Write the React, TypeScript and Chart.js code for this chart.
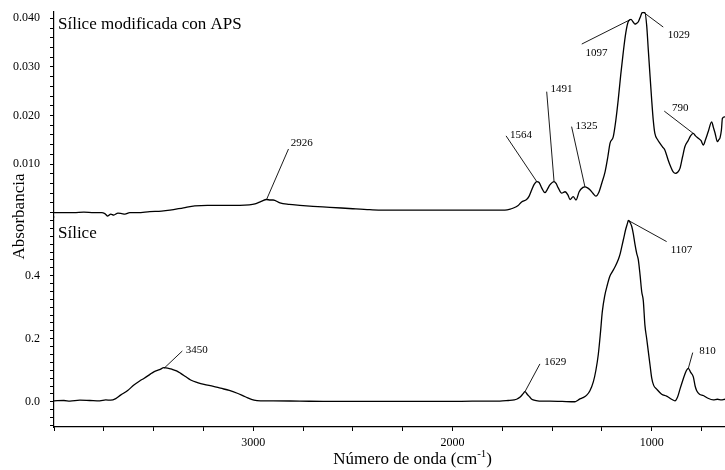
import React, { useEffect, useRef } from 'react';
import { Chart, registerables } from 'chart.js';

Chart.register(...registerables);

// ---------- data ----------
// Upper spectrum: Sílice modificada con APS
const upperWn = [4000, 3900, 3850, 3800, 3760, 3745, 3730, 3715, 3700, 3679, 3660, 3644, 3620, 3580, 3519, 3460, 3418, 3350, 3293, 3230, 3167, 3100, 3067, 3020, 2991, 2960, 2933, 2915, 2900, 2866, 2820, 2766, 2700, 2615, 2500, 2415, 2350, 2264, 2150, 2013, 1900, 1800, 1737, 1710, 1697, 1672, 1653, 1628, 1615, 1602, 1590, 1577, 1565, 1552, 1536, 1525, 1511, 1490, 1480, 1469, 1452, 1435, 1420, 1410, 1394, 1380, 1364, 1345, 1335, 1322, 1310, 1295, 1280, 1265, 1251, 1234, 1220, 1209, 1193, 1180, 1168, 1155, 1143, 1130, 1118, 1104, 1094, 1084, 1075, 1067, 1055, 1047, 1034, 1025, 1017, 1008, 1000, 992, 984, 970, 959, 945, 934, 917, 905, 892, 880, 870, 858, 845, 833, 816, 805, 791, 780, 766, 752, 741, 730, 716, 699, 690, 682, 670, 663, 657, 650, 645, 632, 620];
const upperAbs = [0.0000, 0.0000, 0.0001, 0.0000, 0.0000, -0.0002, -0.0007, -0.0003, -0.0005, -0.0001, -0.0002, -0.0003, 0.0000, 0.0000, 0.0002, 0.0003, 0.0005, 0.0010, 0.0014, 0.0015, 0.0015, 0.0015, 0.0015, 0.0016, 0.0018, 0.0023, 0.0027, 0.0026, 0.0026, 0.0020, 0.0017, 0.0015, 0.0013, 0.0011, 0.0008, 0.0006, 0.0005, 0.0005, 0.0005, 0.0005, 0.0005, 0.0005, 0.0005, 0.0007, 0.0009, 0.0014, 0.0022, 0.0027, 0.0034, 0.0047, 0.0058, 0.0064, 0.0062, 0.0051, 0.0041, 0.0047, 0.0057, 0.0064, 0.0060, 0.0051, 0.0040, 0.0043, 0.0036, 0.0027, 0.0033, 0.0026, 0.0043, 0.0052, 0.0053, 0.0051, 0.0047, 0.0040, 0.0034, 0.0042, 0.0060, 0.0084, 0.0115, 0.0143, 0.0156, 0.0190, 0.0232, 0.0285, 0.0329, 0.0370, 0.0393, 0.0398, 0.0393, 0.0388, 0.0390, 0.0393, 0.0405, 0.0412, 0.0412, 0.0385, 0.0335, 0.0280, 0.0232, 0.0190, 0.0163, 0.0150, 0.0143, 0.0135, 0.0129, 0.0108, 0.0095, 0.0084, 0.0081, 0.0083, 0.0091, 0.0115, 0.0136, 0.0149, 0.0158, 0.0163, 0.0158, 0.0153, 0.0148, 0.0139, 0.0150, 0.0167, 0.0187, 0.0175, 0.0164, 0.0146, 0.0150, 0.0154, 0.0170, 0.0194, 0.0197, 0.0200];

// Lower spectrum: Sílice
const lowerWn = [4000, 3950, 3920, 3870, 3820, 3770, 3740, 3716, 3690, 3666, 3630, 3599, 3570, 3549, 3520, 3499, 3470, 3448, 3430, 3407, 3385, 3364, 3340, 3314, 3280, 3247, 3200, 3164, 3120, 3080, 3040, 2996, 2963, 2900, 2766, 2600, 2515, 2400, 2264, 2100, 2013, 1900, 1800, 1762, 1720, 1690, 1678, 1660, 1645, 1636, 1625, 1612, 1602, 1580, 1550, 1511, 1450, 1385, 1370, 1360, 1345, 1326, 1310, 1293, 1280, 1268, 1257, 1248, 1236, 1222, 1210, 1198, 1184, 1167, 1158, 1150, 1140, 1130, 1122, 1117, 1108, 1100, 1092, 1084, 1075, 1067, 1058, 1050, 1042, 1034, 1025, 1017, 1008, 1000, 990, 975, 950, 925, 900, 883, 870, 858, 845, 833, 825, 816, 805, 791, 782, 774, 760, 741, 720, 691, 670, 650, 632, 620];
const lowerAbs = [0.003, 0.004, 0.002, 0.005, 0.004, 0.003, 0.006, 0.005, 0.010, 0.021, 0.036, 0.053, 0.066, 0.074, 0.086, 0.095, 0.102, 0.108, 0.107, 0.103, 0.098, 0.090, 0.080, 0.069, 0.061, 0.055, 0.049, 0.043, 0.036, 0.027, 0.016, 0.005, 0.003, 0.003, 0.002, 0.001, 0.001, 0.001, 0.001, 0.001, 0.001, 0.002, 0.002, 0.002, 0.004, 0.006, 0.008, 0.015, 0.026, 0.032, 0.024, 0.015, 0.008, 0.004, 0.002, 0.002, 0.001, 0.000, 0.005, 0.009, 0.013, 0.021, 0.035, 0.063, 0.100, 0.150, 0.220, 0.285, 0.335, 0.372, 0.398, 0.412, 0.428, 0.452, 0.470, 0.492, 0.520, 0.548, 0.565, 0.575, 0.568, 0.556, 0.532, 0.500, 0.470, 0.450, 0.400, 0.349, 0.320, 0.243, 0.200, 0.160, 0.115, 0.076, 0.052, 0.040, 0.024, 0.018, 0.008, 0.003, 0.015, 0.040, 0.066, 0.088, 0.100, 0.106, 0.094, 0.079, 0.050, 0.035, 0.024, 0.020, 0.012, 0.006, 0.008, 0.006, 0.008, 0.007];

// Tick labels
const xTickLabels = [3000, 2000, 1000];
const upperTickLabels = [0.01, 0.02, 0.03, 0.04];
const lowerTickLabels = [0.0, 0.2, 0.4];

// Peak annotations (data coordinates): label, peak point, line end, text centre
const upperPeakLabels = ['2926', '1564', '1491', '1325', '1097', '1029', '790'];
const upperPeakX = [2933, 1577, 1490, 1335, 1104, 1040, 791];
const upperPeakY = [0.0027, 0.0064, 0.0064, 0.0053, 0.0398, 0.0412, 0.0163];
const upperLineX = [2823, 1731, 1527, 1402, 1351, 942, 937];
const upperLineY = [0.0131, 0.0158, 0.0249, 0.0177, 0.0347, 0.0382, 0.0209];
const upperTextX = [2756, 1656, 1453, 1327, 1277, 864, 856];
const upperTextY = [0.0143, 0.0160, 0.0254, 0.0178, 0.0329, 0.0366, 0.0215];

const lowerPeakLabels = ['3450', '1629', '1107', '810'];
const lowerPeakX = [3448, 1636, 1117, 816];
const lowerPeakY = [0.106, 0.032, 0.575, 0.106];
const lowerLineX = [3356, 1561, 925, 794];
const lowerLineY = [0.161, 0.120, 0.508, 0.156];
const lowerTextX = [3283, 1484, 850, 720];
const lowerTextY = [0.164, 0.125, 0.482, 0.162];

const upperTitle = 'Sílice modificada con APS';
const lowerTitle = 'Sílice';
const yTitle = 'Absorbancia';
const xTitleMain = 'Número de onda (cm';
const xTitleSup = '-1';
const xTitleEnd = ')';

const FONT = '"Liberation Serif", "Times New Roman", serif';

function near(v: number, list: number[], tol: number) {
  return list.find((t) => Math.abs(v - t) < tol);
}

const textPlugin = {
  id: 'irText',
  afterDatasetsDraw(chart: any) {
    const ctx = chart.ctx as CanvasRenderingContext2D;
    const xs = chart.scales.x;
    const yU = chart.scales.yU;
    const yL = chart.scales.yL;
    ctx.save();
    ctx.strokeStyle = '#000';
    ctx.fillStyle = '#000';
    ctx.lineWidth = 0.9;
    ctx.font = '11px ' + FONT;
    ctx.textAlign = 'center';
    ctx.textBaseline = 'middle';
    const drawSet = (ys: any, labels: string[], px: number[], py: number[], lx: number[], ly: number[], tx: number[], ty: number[]) => {
      labels.forEach((lab, i) => {
        ctx.beginPath();
        ctx.moveTo(xs.getPixelForValue(px[i]), ys.getPixelForValue(py[i]));
        ctx.lineTo(xs.getPixelForValue(lx[i]), ys.getPixelForValue(ly[i]));
        ctx.stroke();
        ctx.fillText(lab, xs.getPixelForValue(tx[i]), ys.getPixelForValue(ty[i]));
      });
    };
    drawSet(yU, upperPeakLabels, upperPeakX, upperPeakY, upperLineX, upperLineY, upperTextX, upperTextY);
    drawSet(yL, lowerPeakLabels, lowerPeakX, lowerPeakY, lowerLineX, lowerLineY, lowerTextX, lowerTextY);

    // panel titles
    ctx.font = '17px ' + FONT;
    ctx.textAlign = 'left';
    ctx.fillText(upperTitle, chart.chartArea.left + 4, yU.top + 13);
    ctx.fillText(lowerTitle, chart.chartArea.left + 4, yL.top + 17);

    // y title
    ctx.save();
    ctx.translate(20, (chart.chartArea.top + chart.chartArea.bottom) / 2 - 3);
    ctx.rotate(-Math.PI / 2);
    ctx.textAlign = 'center';
    ctx.fillText(yTitle, 0, 0);
    ctx.restore();

    // x title with superscript, centred on the full spectrum range (4000-400)
    const cx = (xs.getPixelForValue(4000) + xs.getPixelForValue(400)) / 2;
    const cy = 460;
    ctx.font = '17px ' + FONT;
    const w1 = ctx.measureText(xTitleMain).width;
    const w3 = ctx.measureText(xTitleEnd).width;
    ctx.font = '11px ' + FONT;
    const w2 = ctx.measureText(xTitleSup).width;
    const total = w1 + w2 + w3;
    let sx = cx - total / 2;
    ctx.textAlign = 'left';
    ctx.font = '17px ' + FONT;
    ctx.fillText(xTitleMain, sx, cy);
    sx += w1;
    ctx.font = '11px ' + FONT;
    ctx.fillText(xTitleSup, sx, cy - 6);
    sx += w2;
    ctx.font = '17px ' + FONT;
    ctx.fillText(xTitleEnd, sx, cy);
    ctx.restore();
  },
};

export default function App() {
  const ref = useRef<HTMLCanvasElement | null>(null);
  useEffect(() => {
    if (!ref.current) return;
    const upperData = upperWn.map((w, i) => ({ x: w, y: upperAbs[i] }));
    const lowerData = lowerWn.map((w, i) => ({ x: w, y: lowerAbs[i] }));
    const gridOpts = { drawOnChartArea: false, drawTicks: true, tickLength: 4, color: '#000' };
    const borderOpts = { display: true, color: '#000', width: 1.2 };
    const fitY = (s: any) => { s.width = 54; s.paddingTop = 0; s.paddingBottom = 0; };
    const chart = new Chart(ref.current, {
      type: 'line',
      data: {
        datasets: [
          { label: 'Sílice', data: lowerData, yAxisID: 'yL', borderColor: '#000', borderWidth: 1.3, pointRadius: 0, cubicInterpolationMode: 'monotone', fill: false },
          { label: 'Sílice modificada con APS', data: upperData, yAxisID: 'yU', borderColor: '#000', borderWidth: 1.3, pointRadius: 0, cubicInterpolationMode: 'monotone', fill: false },
        ],
      },
      options: {
        animation: false,
        responsive: false,
        devicePixelRatio: 1,
        layout: { padding: { top: 12, left: 0, right: 0, bottom: 0 } },
        plugins: { legend: { display: false }, tooltip: { enabled: false }, title: { display: false } },
        scales: {
          x: {
            type: 'linear',
            reverse: true,
            min: 632,
            max: 4000,
            grid: gridOpts,
            border: borderOpts,
            ticks: {
              stepSize: 250,
              autoSkip: false,
              includeBounds: false,
              maxRotation: 0,
              padding: 5,
              color: '#000',
              font: { family: FONT, size: 12 },
              callback: (v: any) => {
                const m = near(Number(v), xTickLabels, 1);
                return m !== undefined ? String(m) : '';
              },
            },
            afterFit: (s: any) => { s.height = 43; s.paddingLeft = 0; s.paddingRight = 0; },
          },
          yL: {
            type: 'linear',
            position: 'left',
            stack: 'ir',
            stackWeight: 210,
            min: -0.08,
            max: 0.586,
            grid: gridOpts,
            border: borderOpts,
            ticks: {
              stepSize: 0.025,
              autoSkip: false,
              includeBounds: false,
              padding: 10,
              color: '#000',
              font: { family: FONT, size: 12 },
              callback: (v: any) => {
                const m = near(Number(v), lowerTickLabels, 1e-6);
                return m !== undefined ? m.toFixed(1) : '';
              },
            },
            afterFit: fitY,
          },
          yU: {
            type: 'linear',
            position: 'left',
            stack: 'ir',
            stackWeight: 205,
            min: -0.0009,
            max: 0.0413,
            grid: gridOpts,
            border: borderOpts,
            ticks: {
              stepSize: 0.002,
              autoSkip: false,
              includeBounds: false,
              padding: 10,
              color: '#000',
              font: { family: FONT, size: 12 },
              callback: (v: any) => {
                const m = near(Number(v), upperTickLabels, 1e-7);
                return m !== undefined ? m.toFixed(3) : '';
              },
            },
            afterFit: fitY,
          },
        },
      },
      plugins: [textPlugin],
    } as any);
    return () => chart.destroy();
  }, []);
  return (
    <div style={{ position: 'absolute', left: 0, top: 0, width: 725, height: 470, background: '#fff' }}>
      <canvas ref={ref} width={725} height={470} style={{ display: 'block', width: 725, height: 470 }} />
    </div>
  );
}
